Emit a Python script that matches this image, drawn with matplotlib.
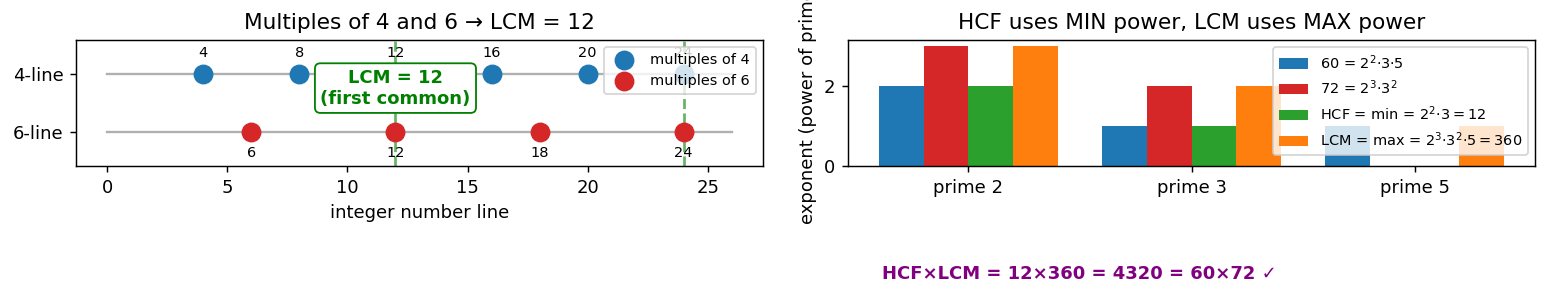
import matplotlib
matplotlib.use("Agg")
import matplotlib.pyplot as plt
import numpy as np

# ---- data ----
mult4 = [4, 8, 12, 16, 20, 24]
mult6 = [6, 12, 18, 24]
common = [12, 24]
line_end = 26
line_labels = ['6-line', '4-line']

primes = ['prime 2', 'prime 3', 'prime 5']
exp60 = [2, 1, 1]
exp72 = [3, 2, 0]
exp_hcf = [2, 1, 0]
exp_lcm = [3, 2, 1]
series_labels = ['60 = $2^2$·3·5', '72 = $2^3$·$3^2$',
                 'HCF = min = $2^2$·$3=12$', 'LCM = max = $2^3$·$3^2$·$5=360$']
series_colors = ['#1f77b4', '#d62728', '#2ca02c', '#ff7f0e']

DPI = 130
fig = plt.figure(figsize=(1547/DPI, 299/DPI), dpi=DPI)
ax1 = fig.add_axes([76/1547, 1-166/299, 687/1547, 126/299])
ax2 = fig.add_axes([848/1547, 1-166/299, 687/1547, 126/299])

# ---- left panel ----
for y in (0, 1):
    ax1.plot([0, line_end], [y, y], color='#b0b0b0', lw=1.3, zorder=1)
for c in common:
    ax1.axvline(c, color='green', ls='--', lw=1.5, alpha=0.6, zorder=0)
ax1.scatter(mult4, [1]*len(mult4), s=100, color='#1f77b4', zorder=3, label='multiples of 4')
ax1.scatter(mult6, [0]*len(mult6), s=100, color='#d62728', zorder=3, label='multiples of 6')
for m in mult4:
    ax1.text(m, 1.25, str(m), ha='center', va='bottom', fontsize=8)
for m in mult6:
    ax1.text(m, -0.25, str(m), ha='center', va='top', fontsize=8)
ax1.text(12, 0.76, 'LCM = 12\n(first common)', ha='center', va='center',
         fontsize=10, fontweight='bold', color='green',
         bbox=dict(boxstyle='round', fc='white', ec='green'), zorder=4)
ax1.set_ylim(-0.6, 1.6)
ax1.set_yticks([0, 1])
ax1.set_yticklabels(line_labels)
ax1.set_xlim(-1.3, 27.3)
ax1.set_xlabel('integer number line')
ax1.set_title('Multiples of 4 and 6 → LCM = 12')
ax1.legend(loc='upper right', fontsize=8)

# ---- right panel ----
x = np.arange(len(primes))
w = 0.2
for i, (vals, lab, col) in enumerate(zip([exp60, exp72, exp_hcf, exp_lcm], series_labels, series_colors)):
    ax2.bar(x + (i - 1.5) * w, vals, w, color=col, label=lab)
ax2.set_xticks(x)
ax2.set_xticklabels(primes)
ax2.set_ylim(0, 3.15)
ax2.set_yticks([0, 2])
ax2.set_ylabel('exponent (power of prime)')
ax2.set_title('HCF uses MIN power, LCM uses MAX power')
ax2.legend(loc='upper right', fontsize=8)

fig.text(0.698, 0.084, 'HCF×LCM = 12×360 = 4320 = 60×72 ✓', ha='center', va='center',
         fontsize=10, fontweight='bold', color='purple')

fig.savefig('out.png', dpi=DPI)
